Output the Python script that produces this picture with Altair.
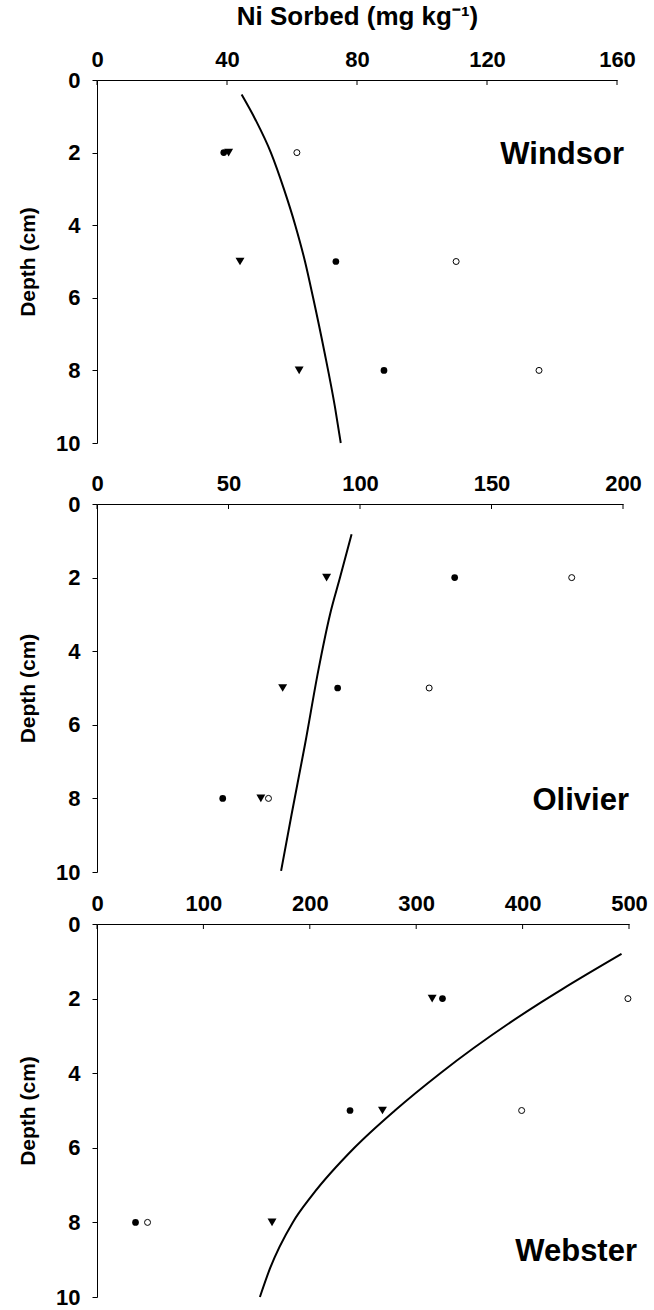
import altair as alt
import pandas as pd

# Sampling depths (cm) for the three measured series
DEPTHS = [2, 5, 8]

# Windsor soil: Ni sorbed (mg/kg)
WINDSOR_SOLID = [39.0, 73.5, 88.3]
WINDSOR_OPEN = [61.5, 110.5, 136.0]
WINDSOR_TRIANGLE = [40.5, 44.0, 62.2]
WINDSOR_FIT_DEPTH = [0.4, 1.1, 2.0, 3.0, 4.0, 5.0, 6.0, 7.5, 9.0, 10.0]
WINDSOR_FIT = [44.5, 48.8, 53.5, 57.5, 61.0, 64.0, 66.5, 70.0, 73.2, 75.0]

# Olivier soil
OLIVIER_SOLID = [136.0, 91.5, 47.8]
OLIVIER_OPEN = [180.5, 126.3, 65.2]
OLIVIER_TRIANGLE = [87.3, 70.6, 62.3]
OLIVIER_FIT_DEPTH = [0.82, 2.0, 3.0, 4.54, 6.53, 8.43, 9.97]
OLIVIER_FIT = [96.8, 92.4, 88.6, 84.1, 79.1, 74.0, 70.0]

# Webster soil
WEBSTER_SOLID = [324.7, 237.8, 36.2]
WEBSTER_OPEN = [499.0, 399.1, 47.5]
WEBSTER_TRIANGLE = [315.0, 268.3, 164.5]
WEBSTER_FIT_DEPTH = [0.8, 1.75, 2.1, 4.0, 5.0, 6.0, 7.27, 8.0, 9.24, 10.0]
WEBSTER_FIT = [493.0, 437.0, 417.3, 322.7, 280.0, 241.9, 202.3, 184.0, 162.5, 153.1]

DEPTH_TICKS = [0, 2, 4, 6, 8, 10]
WINDSOR_TICKS = [0, 40, 80, 120, 160]
OLIVIER_TICKS = [0, 50, 100, 150, 200]
WEBSTER_TICKS = [0, 100, 200, 300, 400, 500]

FONT = "Liberation Sans"
X_TITLE = "Ni Sorbed (mg kg⁻¹)"


def panel(name, solid, open_, tri, fit_d, fit_v, ticks, width, height,
          label_x, label_y, show_title):
    pts = pd.DataFrame({
        "depth": DEPTHS * 3,
        "value": list(solid) + list(open_) + list(tri),
        "kind": ["solid"] * 3 + ["open"] * 3 + ["tri"] * 3,
    })
    fit = pd.DataFrame({"depth": fit_d, "value": fit_v})
    tick_df = pd.DataFrame({"t": ticks})

    x_axis = alt.Axis(
        orient="top", values=ticks, ticks=False, tickSize=0, grid=False,
        labelPadding=9, titlePadding=19, labelFlush=False, titleFontSize=26,
    )
    x_scale = alt.Scale(domain=[0, ticks[-1]], nice=False)
    if show_title:
        x_enc = alt.X("value:Q", scale=x_scale, axis=x_axis, title=X_TITLE)
    else:
        x_enc = alt.X("value:Q", scale=x_scale, axis=x_axis, title=None)
    y_enc = alt.Y("depth:Q", scale=alt.Scale(domain=[0, 10], reverse=True, nice=False),
                  axis=alt.Axis(values=DEPTH_TICKS, tickSize=5, labelPadding=12,
                                titlePadding=17, grid=False),
                  title="Depth (cm)")

    line = alt.Chart(fit).mark_line(
        color="black", strokeWidth=2, interpolate="monotone").encode(
        x=x_enc, y=y_enc, order="depth:Q")

    solid_pts = alt.Chart(pts).transform_filter(alt.datum.kind == "solid").mark_point(
        shape="circle", filled=True, color="black", size=45, opacity=1).encode(
        x="value:Q", y="depth:Q")
    open_pts = alt.Chart(pts).transform_filter(alt.datum.kind == "open").mark_point(
        shape="circle", filled=False, color="black", fill="white", size=36,
        strokeWidth=1, opacity=1).encode(x="value:Q", y="depth:Q")
    tri_pts = alt.Chart(pts).transform_filter(alt.datum.kind == "tri").mark_point(
        shape="triangle-down", filled=True, color="black", size=80, opacity=1).encode(
        x="value:Q", y="depth:Q")

    # short tick marks that point down into the plot from the top axis
    inner_ticks = alt.Chart(tick_df).mark_rule(color="black", strokeWidth=1).encode(
        x="t:Q", y=alt.value(0), y2=alt.value(5))

    label = alt.Chart(pd.DataFrame({"name": [name]})).mark_text(
        align="right", baseline="alphabetic", fontSize=31, fontWeight="bold",
        font=FONT, color="black").encode(
        x=alt.value(label_x), y=alt.value(label_y), text="name:N")

    return alt.layer(line, inner_ticks, solid_pts, open_pts, tri_pts, label).properties(
        width=width, height=height)


windsor = panel("Windsor", WINDSOR_SOLID, WINDSOR_OPEN, WINDSOR_TRIANGLE,
                WINDSOR_FIT_DEPTH, WINDSOR_FIT, WINDSOR_TICKS, 520, 363, 527, 84, True)
olivier = panel("Olivier", OLIVIER_SOLID, OLIVIER_OPEN, OLIVIER_TRIANGLE,
                OLIVIER_FIT_DEPTH, OLIVIER_FIT, OLIVIER_TICKS, 526, 368, 532, 306, False)
webster = panel("Webster", WEBSTER_SOLID, WEBSTER_OPEN, WEBSTER_TRIANGLE,
                WEBSTER_FIT_DEPTH, WEBSTER_FIT, WEBSTER_TICKS, 532, 373, 540, 337, False)

chart = alt.vconcat(
    windsor,
    alt.vconcat(olivier, webster, spacing=9),
    spacing=18,
).properties(
    padding={"left": 17, "top": 3, "right": 0, "bottom": 0},
).configure(
    font=FONT,
).configure_view(
    stroke=None,
).configure_axis(
    labelFont=FONT, labelFontSize=22, labelFontWeight="bold", labelColor="black",
    titleFont=FONT, titleFontSize=21, titleFontWeight="bold", titleColor="black",
    domainColor="black", domainWidth=1, tickColor="black", tickWidth=1,
)

chart.save("out.html", embed_options={"renderer": "svg", "actions": False})
